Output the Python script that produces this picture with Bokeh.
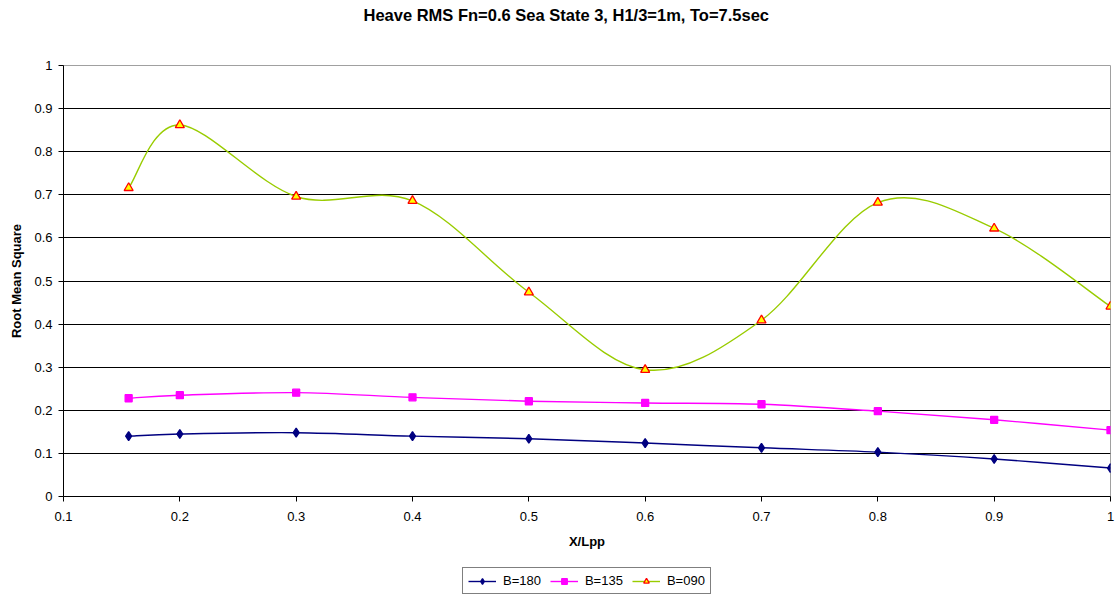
from bokeh.plotting import figure
from bokeh.layouts import column
from bokeh.models import (ColumnDataSource, Legend, LegendItem, FixedTicker,
                          NumeralTickFormatter, Range1d, Title)
from bokeh.embed import file_html
from bokeh.resources import INLINE

# ---------------- data ----------------
title_text = "Heave RMS Fn=0.6 Sea State 3, H1/3=1m, To=7.5sec"
x_label = "X/Lpp"
y_label = "Root Mean Square"

x_pos = [0.156, 0.2, 0.3, 0.4, 0.5, 0.6, 0.7, 0.8, 0.9, 1.0]
b180 = [0.140, 0.145, 0.148, 0.140, 0.134, 0.124, 0.113, 0.103, 0.087, 0.066]
b135 = [0.228, 0.235, 0.241, 0.230, 0.221, 0.217, 0.214, 0.198, 0.178, 0.154]
b090 = [0.716, 0.862, 0.696, 0.686, 0.474, 0.294, 0.409, 0.682, 0.622, 0.441]

series_names = ["B=180", "B=135", "B=090"]
x_ticks = [0.1, 0.2, 0.3, 0.4, 0.5, 0.6, 0.7, 0.8, 0.9, 1.0]
y_ticks = [0.0, 0.1, 0.2, 0.3, 0.4, 0.5, 0.6, 0.7, 0.8, 0.9, 1.0]


def smooth_segments(xs, ys, t=1.0 / 6.0):
    """Bezier control points (Catmull-Rom style, like Excel's smoothed line)."""
    n = len(xs)
    d = dict(x0=[], y0=[], x1=[], y1=[], cx0=[], cy0=[], cx1=[], cy1=[])
    for i in range(n - 1):
        xp, yp = (xs[i - 1], ys[i - 1]) if i > 0 else (xs[i], ys[i])
        xn, yn = (xs[i + 2], ys[i + 2]) if i + 2 < n else (xs[i + 1], ys[i + 1])
        d["x0"].append(xs[i]); d["y0"].append(ys[i])
        d["x1"].append(xs[i + 1]); d["y1"].append(ys[i + 1])
        d["cx0"].append(xs[i] + (xs[i + 1] - xp) * t)
        d["cy0"].append(ys[i] + (ys[i + 1] - yp) * t)
        d["cx1"].append(xs[i + 1] - (xn - xs[i]) * t)
        d["cy1"].append(ys[i + 1] - (yn - ys[i]) * t)
    return d


FONT = "Liberation Sans"

p = figure(width=1115, height=555, x_range=Range1d(0.1, 1.0), y_range=Range1d(0, 1),
           output_backend="svg", toolbar_location=None, title=title_text,
           min_border_left=63, min_border_right=5, min_border_top=65, min_border_bottom=59)

p.title.text_font = FONT
p.title.text_font_size = "16.5px"
p.title.text_font_style = "bold"
p.title.text_color = "black"
p.title.align = "left"
p.title.offset = 300
p.title.vertical_align = "top"
p.title.standoff = 0

# spacer between title and frame (nearest to the frame)
p.add_layout(Title(text=" ", text_font_size="1px", standoff=37), "above")

p.background_fill_color = "white"
p.border_fill_color = "white"
p.outline_line_color = "#A0A0A0"
p.outline_line_width = 1

# grid
p.xgrid.grid_line_color = None
p.ygrid.ticker = FixedTicker(ticks=y_ticks)
p.ygrid.grid_line_color = "#000000"
p.ygrid.grid_line_width = 1

# axes
for ax, ticks in ((p.xaxis[0], x_ticks), (p.yaxis[0], y_ticks)):
    ax.ticker = FixedTicker(ticks=ticks)
    ax.formatter = NumeralTickFormatter(format="0.[0]")
    ax.major_tick_in = 0
    ax.major_tick_out = 5
    ax.minor_tick_line_color = None
    ax.axis_line_color = "black"
    ax.major_tick_line_color = "black"
    ax.major_label_text_font = FONT
    ax.major_label_text_font_size = "13px"
    ax.major_label_text_color = "black"
    ax.axis_label_text_font = FONT
    ax.axis_label_text_font_size = "13px"
    ax.axis_label_text_font_style = "bold"
    ax.axis_label_text_color = "black"

p.xaxis.axis_label = x_label
p.yaxis.axis_label = y_label
p.xaxis.major_label_standoff = 10
p.xaxis.axis_label_standoff = 10
p.yaxis.major_label_standoff = 6
p.yaxis.axis_label_standoff = 7

# series
styles = [
    dict(ys=b180, line="#000080", marker="diamond", size=9, fill="#000080", mline="#000080"),
    dict(ys=b135, line="#FF00FF", marker="square", size=7, fill="#FF00FF", mline="#FF00FF"),
    dict(ys=b090, line="#99CC00", marker="triangle", size=9, fill="#FFFF00", mline="#FF0000"),
]

for name, st in zip(series_names, styles):
    src = ColumnDataSource(smooth_segments(x_pos, st["ys"]))
    p.bezier(x0="x0", y0="y0", x1="x1", y1="y1", cx0="cx0", cy0="cy0",
             cx1="cx1", cy1="cy1", source=src, line_color=st["line"], line_width=1.4)
    p.scatter(x=x_pos, y=st["ys"], marker=st["marker"], size=st["size"],
              fill_color=st["fill"], line_color=st["mline"], line_width=1.3)

# ---------------- legend strip below the chart ----------------
# (same series drawn again, but outside this strip's visible x range, so only
#  the legend shows)
lf = figure(width=1115, height=42, x_range=Range1d(2, 3), y_range=Range1d(0, 1),
            output_backend="svg", toolbar_location=None, x_axis_type=None, y_axis_type=None,
            min_border_left=0, min_border_right=0, min_border_top=0, min_border_bottom=0)
lf.outline_line_color = None
lf.xgrid.grid_line_color = None
lf.ygrid.grid_line_color = None
lf.background_fill_color = "white"
lf.border_fill_color = "white"

items = []
for name, st in zip(series_names, styles):
    r_line = lf.line(x=x_pos, y=st["ys"], line_color=st["line"], line_width=1.4)
    r_pts = lf.scatter(x=x_pos, y=st["ys"], marker=st["marker"], size=st["size"],
                       fill_color=st["fill"], line_color=st["mline"], line_width=1.3)
    items.append(LegendItem(label=name, renderers=[r_line, r_pts]))

legend = Legend(items=items, orientation="horizontal", location=(399, 3))
legend.border_line_color = "black"
legend.border_line_width = 1
legend.background_fill_color = "white"
legend.padding = 5
legend.spacing = 9
legend.margin = 0
legend.glyph_width = 28
legend.glyph_height = 14
legend.label_standoff = 7
legend.label_text_font = FONT
legend.label_text_font_size = "13px"
legend.label_text_color = "black"
lf.add_layout(legend, "center")

layout = column(p, lf, spacing=0)
open("out.html", "w").write(file_html(layout, INLINE))
